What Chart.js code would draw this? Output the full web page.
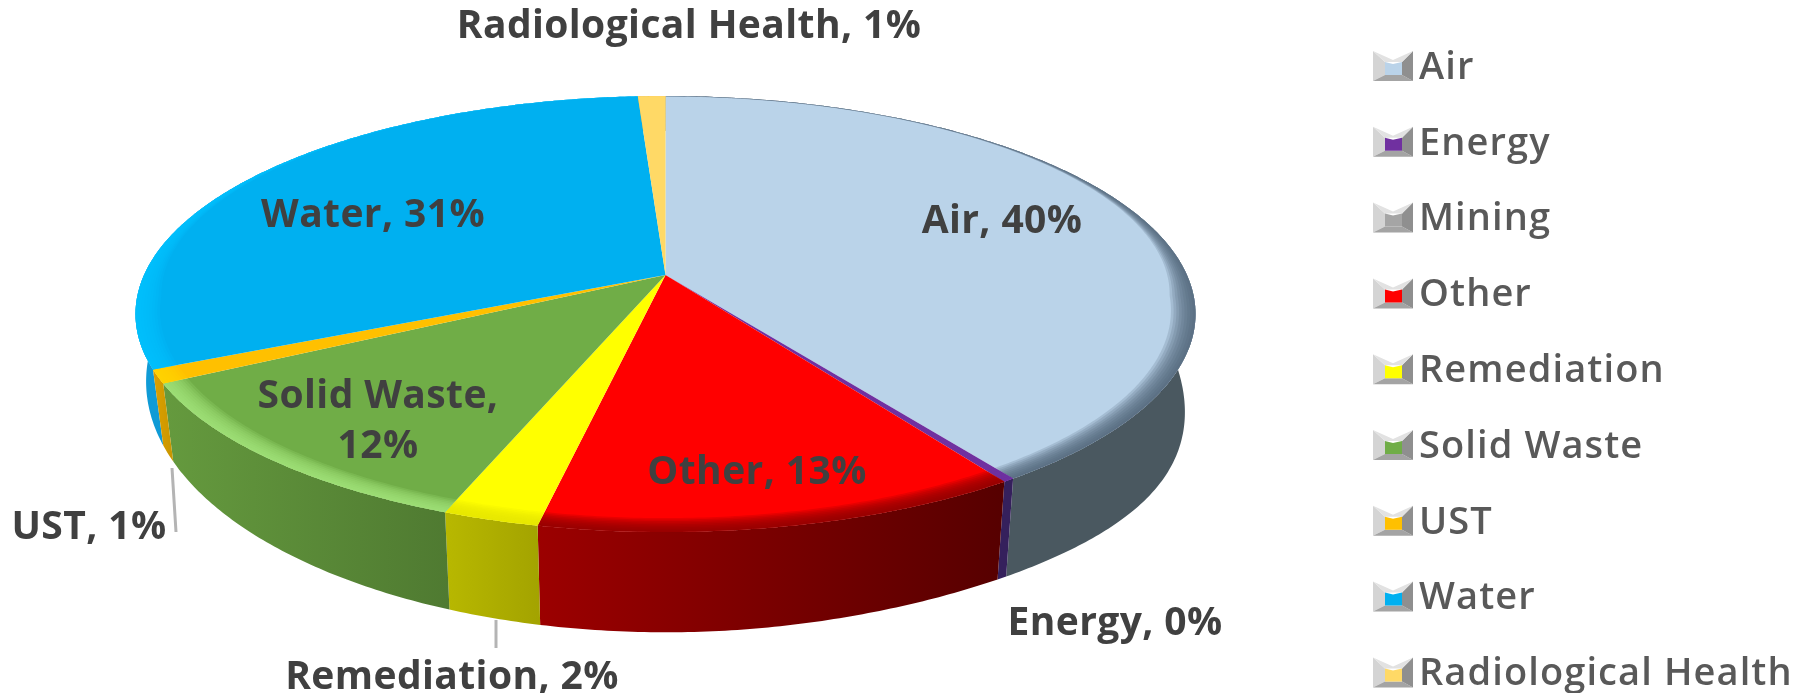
<!DOCTYPE html>
<html>
<head>
<meta charset="utf-8">
<title>Pie</title>
<script src="https://cdn.jsdelivr.net/npm/chart.js@4/dist/chart.umd.min.js"></script>
<style>
    html, body { margin: 0; padding: 0; background: #fff; overflow: hidden; }
    canvas { display: block; filter: blur(0.7px); }
</style>
</head>
<body>
<canvas id="pieChart" width="1812" height="693"></canvas>
<script>
// Program areas and their share
const categories = ["Air", "Energy", "Mining", "Other", "Remediation", "Solid Waste", "UST", "Water", "Radiological Health"];
const shares = [40.49, 0.3, 0, 12.6, 2.49, 11.5, 1.0, 30.9, 1.0];

const topColors = ["#bad3e9", "#7030a0", "#a5a5a5", "#ff0000", "#ffff00", "#70ad47", "#ffc000", "#00b0f0", "#ffd966"];
const wallLeft = ["#4a5860", "#35205c", "#7a7a7a", "#9c0000", "#b8b800", "#659a3e", "#dda000", "#0f9bd6", "#c8a94f"];
const wallRight = ["#4a5860", "#35205c", "#7a7a7a", "#560000", "#a3a300", "#4f7a31", "#c89600", "#0f9bd6", "#c8a94f"];
const rimColors = ["#52667a", "#7030a0", "#a5a5a5", "#8a0000", "#e6e600", "#a4e67c", "#ffd800", "#00c4ff", "#ffd966"];

// where the outside labels and the two leader lines sit on the page
const labelSpots = [[1002, 222], [1115, 624], null, [757, 473], [452, 678], [378, 422], [89, 528], [373, 216], [689, 27]];
const leaderLines = [[172, 468, 176, 532], [496, 620, 496, 648]];

const PIE = { tilt: 218 / 530, apexShift: -0.179, wallScale: 0.98, wallHeight: 100, wallSlope: 0.15, frontY: 530 };

// circle position (angle from chart.js, r 0..1) to the tilted top face
function project(arc, angle, r) {
    const u = Math.cos(angle) * r;
    const v = Math.sin(angle) * r;
    const d = PIE.apexShift;
    const k = 1 + d * v;
    return {
        x: arc.x + arc.outerRadius * u * Math.sqrt(1 - d * d) / k,
        y: arc.y + arc.outerRadius * PIE.tilt * (v + d) / k,
    };
}

function dropToBase(arc, p) {
    const dx = Math.max(0, p.x - arc.x) / 444;
    return {
        x: arc.x + (p.x - arc.x) * PIE.wallScale,
        y: p.y + PIE.wallHeight + (p.y - PIE.frontY) * PIE.wallSlope + 15 * dx ** 4, // right side runs a bit deeper
    };
}

// radius may be a number or a function of the angle
function arcPoints(arc, r) {
    const steps = Math.max(2, Math.ceil((arc.endAngle - arc.startAngle) / 0.01));
    const pts = [];
    for (let i = 0; i <= steps; i++) {
        const a = arc.startAngle + (arc.endAngle - arc.startAngle) * i / steps;
        pts.push(project(arc, a, typeof r === "function" ? r(a) : r));
    }
    return pts;
}

function tracePolygon(ctx, pts) {
    ctx.beginPath();
    pts.forEach((p, i) => (i ? ctx.lineTo(p.x, p.y) : ctx.moveTo(p.x, p.y)));
    ctx.closePath();
}

function drawWall(ctx, arc, i) {
    const top = arcPoints(arc, 1);
    const base = top.map((p) => dropToBase(arc, p)).reverse();
    const xs = top.concat(base).map((p) => p.x);
    const grad = ctx.createLinearGradient(Math.min(...xs), 0, Math.max(...xs), 0);
    grad.addColorStop(0, wallLeft[i]);
    grad.addColorStop(1, wallRight[i]);
    tracePolygon(ctx, top.concat(base));
    ctx.fillStyle = grad;
    ctx.fill();
}

// bevel is wide at the front and sides, nearly gone along the back
function rimWidth(angle) {
    const t = Math.min(1, Math.max(0, (Math.sin(angle) + 1) / 1.1));
    return 0.045 * (0.08 + 0.92 * t * t);
}

function drawTop(ctx, arc, i) {
    const apex = project(arc, 0, 0);
    const outer = arcPoints(arc, 1);
    tracePolygon(ctx, [apex].concat(outer));
    ctx.fillStyle = arc.options.backgroundColor;
    ctx.fill();

    // soft bevel along the rim, built up in thin layers
    ctx.save();
    ctx.fillStyle = rimColors[i];
    ctx.globalAlpha = 0.2;
    for (let s = 0; s < 9; s++) {
        const inner = arcPoints(arc, (a) => 1 - rimWidth(a) * (1 - s / 9)).reverse();
        tracePolygon(ctx, outer.concat(inner));
        ctx.fill();
    }
    ctx.restore();
}

function drawLegendMarker(ctx, x, y, color) {
    const facet = (pts, fill) => {
        ctx.beginPath();
        pts.forEach((p, i) => (i ? ctx.lineTo(x + p[0], y + p[1]) : ctx.moveTo(x + p[0], y + p[1])));
        ctx.closePath();
        ctx.fillStyle = fill;
        ctx.fill();
    };
    facet([[0, 0], [12, 11], [12, 24], [0, 30]], "#d4d4d4");
    facet([[0, 30], [12, 24], [29, 24], [40, 30]], "#a4a4a4");
    facet([[40, 0], [29, 11], [29, 24], [40, 30]], "#8f8f8f");
    facet([[0, 0], [12, 11], [29, 11], [40, 0], [20, 9]], "#e2e2e2");
    facet([[12, 11], [20, 13], [29, 11], [29, 24], [12, 24]], color);
}

const tiltedPie = {
    id: "tiltedPie",
    beforeDatasetDraw(chart) {
        const ctx = chart.ctx;
        const arcs = chart.getDatasetMeta(0).data;
        // back walls first, then the front ones over them
        [0, 7, 8, 1, 3, 4, 5, 6].forEach((i) => drawWall(ctx, arcs[i], i));
        arcs.forEach((arc, i) => drawTop(ctx, arc, i));
        return false;
    },
    afterDatasetsDraw(chart) {
        const ctx = chart.ctx;
        ctx.save();
        ctx.strokeStyle = "#b4b4b4";
        ctx.lineWidth = 3;
        leaderLines.forEach((l) => {
            ctx.beginPath();
            ctx.moveTo(l[0], l[1]);
            ctx.lineTo(l[2], l[3]);
            ctx.stroke();
        });

        ctx.textAlign = "center";
        ctx.textBaseline = "middle";
        ctx.font = "700 39px 'Open Sans'";
        ctx.letterSpacing = "0.4px";
        ctx.fillStyle = "#404040";
        categories.forEach((name, i) => {
            const spot = labelSpots[i];
            if (!spot) return;
            const pct = `${Math.round(shares[i])}%`;
            if (name === "Solid Waste") {
                ctx.fillText(`${name},`, spot[0], spot[1] - 25);
                ctx.fillText(pct, spot[0], spot[1] + 25);
            } else {
                ctx.fillText(`${name}, ${pct}`, spot[0], spot[1]);
            }
        });

        // legend column
        ctx.textAlign = "left";
        ctx.font = "600 38px 'Open Sans'";
        ctx.letterSpacing = "1.1px";
        categories.forEach((name, i) => {
            const rowY = 66 + i * 75.8;
            drawLegendMarker(ctx, 1373, rowY - 15, topColors[i]);
            ctx.fillStyle = "#595959";
            ctx.fillText(name, 1419, rowY + 2);
        });
        ctx.restore();
    },
};

function initChart() {
    const canvas = document.getElementById("pieChart");
    new Chart(canvas.getContext("2d"), {
        type: "pie",
        data: {
            labels: categories,
            datasets: [{ data: shares, backgroundColor: topColors, borderWidth: 0 }],
        },
        options: {
            responsive: false,
            animation: false,
            radius: 530,
            layout: { padding: { right: 481, bottom: 65 } },
            plugins: {
                legend: { display: false },
                tooltip: { enabled: false },
            },
        },
        plugins: [tiltedPie],
    });
}

initChart();
</script>
</body>
</html>
